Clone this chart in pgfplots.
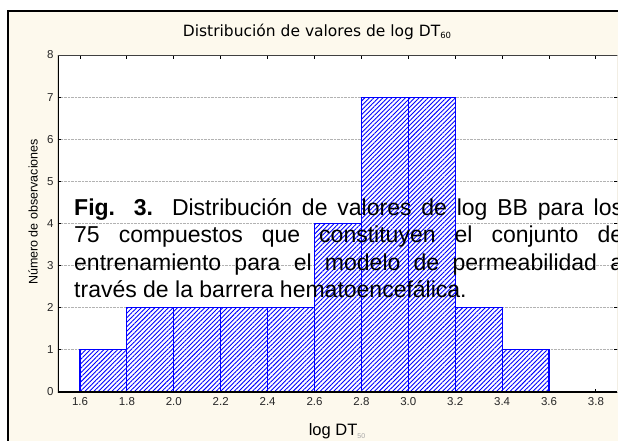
\documentclass[border=0pt]{standalone}
\usepackage{pgfplots}
\pgfplotsset{compat=1.18}
\usepackage{fontspec}
\setmainfont{Liberation Sans}
\newfontfamily\titlefont{DejaVu Sans}
\usetikzlibrary{patterns.meta}
\definecolor{cream}{RGB}{253,249,237}
\begin{document}
\begin{tikzpicture}
\useasboundingbox (0pt,0pt) rectangle (618pt,-440pt);
\clip (0pt,0pt) rectangle (618pt,-440pt);
\fill[white] (0pt,0pt) rectangle (618pt,-440pt);
\draw[black, line width=1.3pt, fill=cream] (8pt,-11pt) rectangle (700pt,-520pt);
\begin{axis}[
  at={(58pt,-392pt)}, anchor=south west,
  scale only axis, width=559pt, height=337pt,
  xmin=1.506, xmax=3.89, ymin=0, ymax=8,
  axis background/.style={fill=white},
  axis line style={draw=none},
  xtick={1.6,1.8,2.0,2.2,2.4,2.6,2.8,3.0,3.2,3.4,3.6,3.8},
  xticklabels={1.6,1.8,2.0,2.2,2.4,2.6,2.8,3.0,3.2,3.4,3.6,3.8},
  ytick={0,1,2,3,4,5,6,7,8},
  tick align=inside,
  major tick length=3.5pt,
  tick style={black, line width=1pt},
  ymajorgrids,
  major grid style={densely dotted, gray!60, line width=0.8pt},
  /pgf/number format/assume math mode=true,
  tick label style={font=\fontsize{11.5}{12}\selectfont, text=black!85},
  xticklabel style={yshift=-2pt},
  yticklabel style={xshift=-1pt},
]
\addplot[ybar interval, fill=white, draw=blue, line width=1.1pt,
  postaction={pattern={Lines[angle=45,distance=3.2pt,line width=0.9pt]}, pattern color=blue}]
  coordinates {(1.6,1) (1.8,2) (2.0,2) (2.2,2) (2.4,2) (2.6,4) (2.8,7) (3.0,7) (3.2,2) (3.4,1) (3.6,1)};
\draw[black, line width=1.4pt] (rel axis cs:0,1) -- (rel axis cs:0,0) -- (rel axis cs:1,0);
\draw[black!75, line width=1.2pt] (rel axis cs:0,1) -- (rel axis cs:1,1);
\draw[gray!70, line width=0.8pt] (rel axis cs:1,0) -- (rel axis cs:1,1);
\end{axis}
\node[anchor=base] at (317pt,-36.7pt) {\titlefont\fontsize{15.5}{16}\selectfont Distribución de valores de log DT\raisebox{-2pt}{\fontsize{8.5}{9}\selectfont 60}};
\node[anchor=base] at (337pt,-435pt) {\fontsize{16.5}{18}\selectfont log DT\raisebox{-3pt}{\fontsize{7}{7}\selectfont\color{gray!70}50}};
\node[rotate=90] at (33pt,-212pt) {\fontsize{12.5}{14}\selectfont Número de observaciones};
\begin{scope}[every node/.style={anchor=base west, inner sep=0pt, font=\fontsize{23}{27}\selectfont}]
\node at (74pt,-215pt) {\makebox[549pt][s]{\textbf{Fig. 3.} Distribución de valores de log BB para los}};
\node at (74pt,-242.5pt) {\makebox[549pt][s]{75 compuestos que constituyen el conjunto de}};
\node at (74pt,-270pt) {\makebox[549pt][s]{entrenamiento para el modelo de permeabilidad a}};
\node at (74pt,-297pt) {través de la barrera hematoencefálica.};
\end{scope}
\end{tikzpicture}
\end{document}
